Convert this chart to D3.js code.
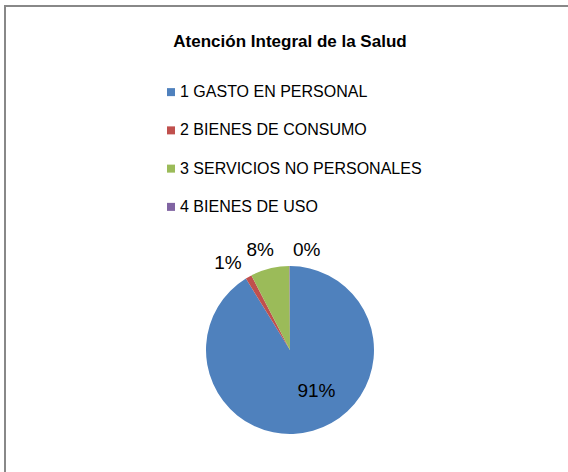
<!DOCTYPE html>
<html>
<head>
<meta charset="utf-8">
<script src="https://cdn.jsdelivr.net/npm/d3@7"></script>
<style>
  html, body { margin: 0; padding: 0; background: #fff; }
  svg { display: block; font-family: "Liberation Sans", Arial, sans-serif; }
</style>
</head>
<body>
<div id="chart"></div>
<script>
// Data
const title = 'Atención Integral de la Salud';
const categories = ['1 GASTO EN PERSONAL', '2 BIENES DE CONSUMO', '3 SERVICIOS NO PERSONALES', '4 BIENES DE USO'];
const shares = [91.2, 1.2, 7.5, 0.1];
const colors = ['#4F81BD', '#C0504D', '#9BBB59', '#8064A2'];

const width = 568, height = 472;
const svg = d3.select('#chart').append('svg')
    .attr('width', width)
    .attr('height', height);

// chart area border (runs off the right and bottom edges)
svg.append('rect')
    .attr('x', 5).attr('y', 6)
    .attr('width', width + 20).attr('height', height + 20)
    .attr('fill', '#fff')
    .attr('stroke', '#888')
    .attr('stroke-width', 2);

// title
svg.append('text')
    .attr('x', 290).attr('y', 47)
    .attr('text-anchor', 'middle')
    .style('font-size', '17px')
    .style('font-weight', 'bold')
    .attr('fill', '#000')
    .text(title);

// legend
const legendY = d3.scaleBand().domain(categories).range([73, 226]);
const legend = svg.append('g').selectAll('g')
    .data(categories)
    .enter().append('g')
    .attr('transform', d => `translate(167,${legendY(d) + legendY.bandwidth() / 2})`);

legend.append('rect')
    .attr('x', 0).attr('y', -4)
    .attr('width', 8).attr('height', 8)
    .attr('fill', (d, i) => colors[i]);

legend.append('text')
    .attr('x', 13).attr('y', 5)
    .style('font-size', '16px')
    .attr('fill', '#000')
    .text(d => d);

// pie
const cx = 290, cy = 350, r = 84;
const pie = d3.pie().sort(null).value(d => d);
const arcs = pie(shares);
const arc = d3.arc().innerRadius(0).outerRadius(r);

const g = svg.append('g').attr('transform', `translate(${cx},${cy})`);
g.selectAll('path')
    .data(arcs)
    .enter().append('path')
    .attr('d', arc)
    .attr('fill', (d, i) => colors[i]);

// labels: big slice inside, small ones outside, nudged apart like Excel does
const innerLabel = d3.arc().innerRadius(r * 0.5).outerRadius(r * 0.5);
const outerLabel = d3.arc().innerRadius(r * 1.28).outerRadius(r * 1.28);
const nudge = [[15, 0], [-9, 6], [-4, 4], [17, 7]];

g.selectAll('text.lbl')
    .data(arcs)
    .enter().append('text')
    .attr('class', 'lbl')
    .attr('transform', (d, i) => {
        const c = (d.endAngle - d.startAngle > 1) ? innerLabel.centroid(d) : outerLabel.centroid(d);
        return `translate(${c[0] + nudge[i][0]},${c[1] + nudge[i][1]})`;
    })
    .attr('text-anchor', 'middle')
    .attr('dy', '0.35em')
    .style('font-size', '19px')
    .attr('fill', '#000')
    .text(d => Math.round(d.data) + '%');
</script>
</body>
</html>
